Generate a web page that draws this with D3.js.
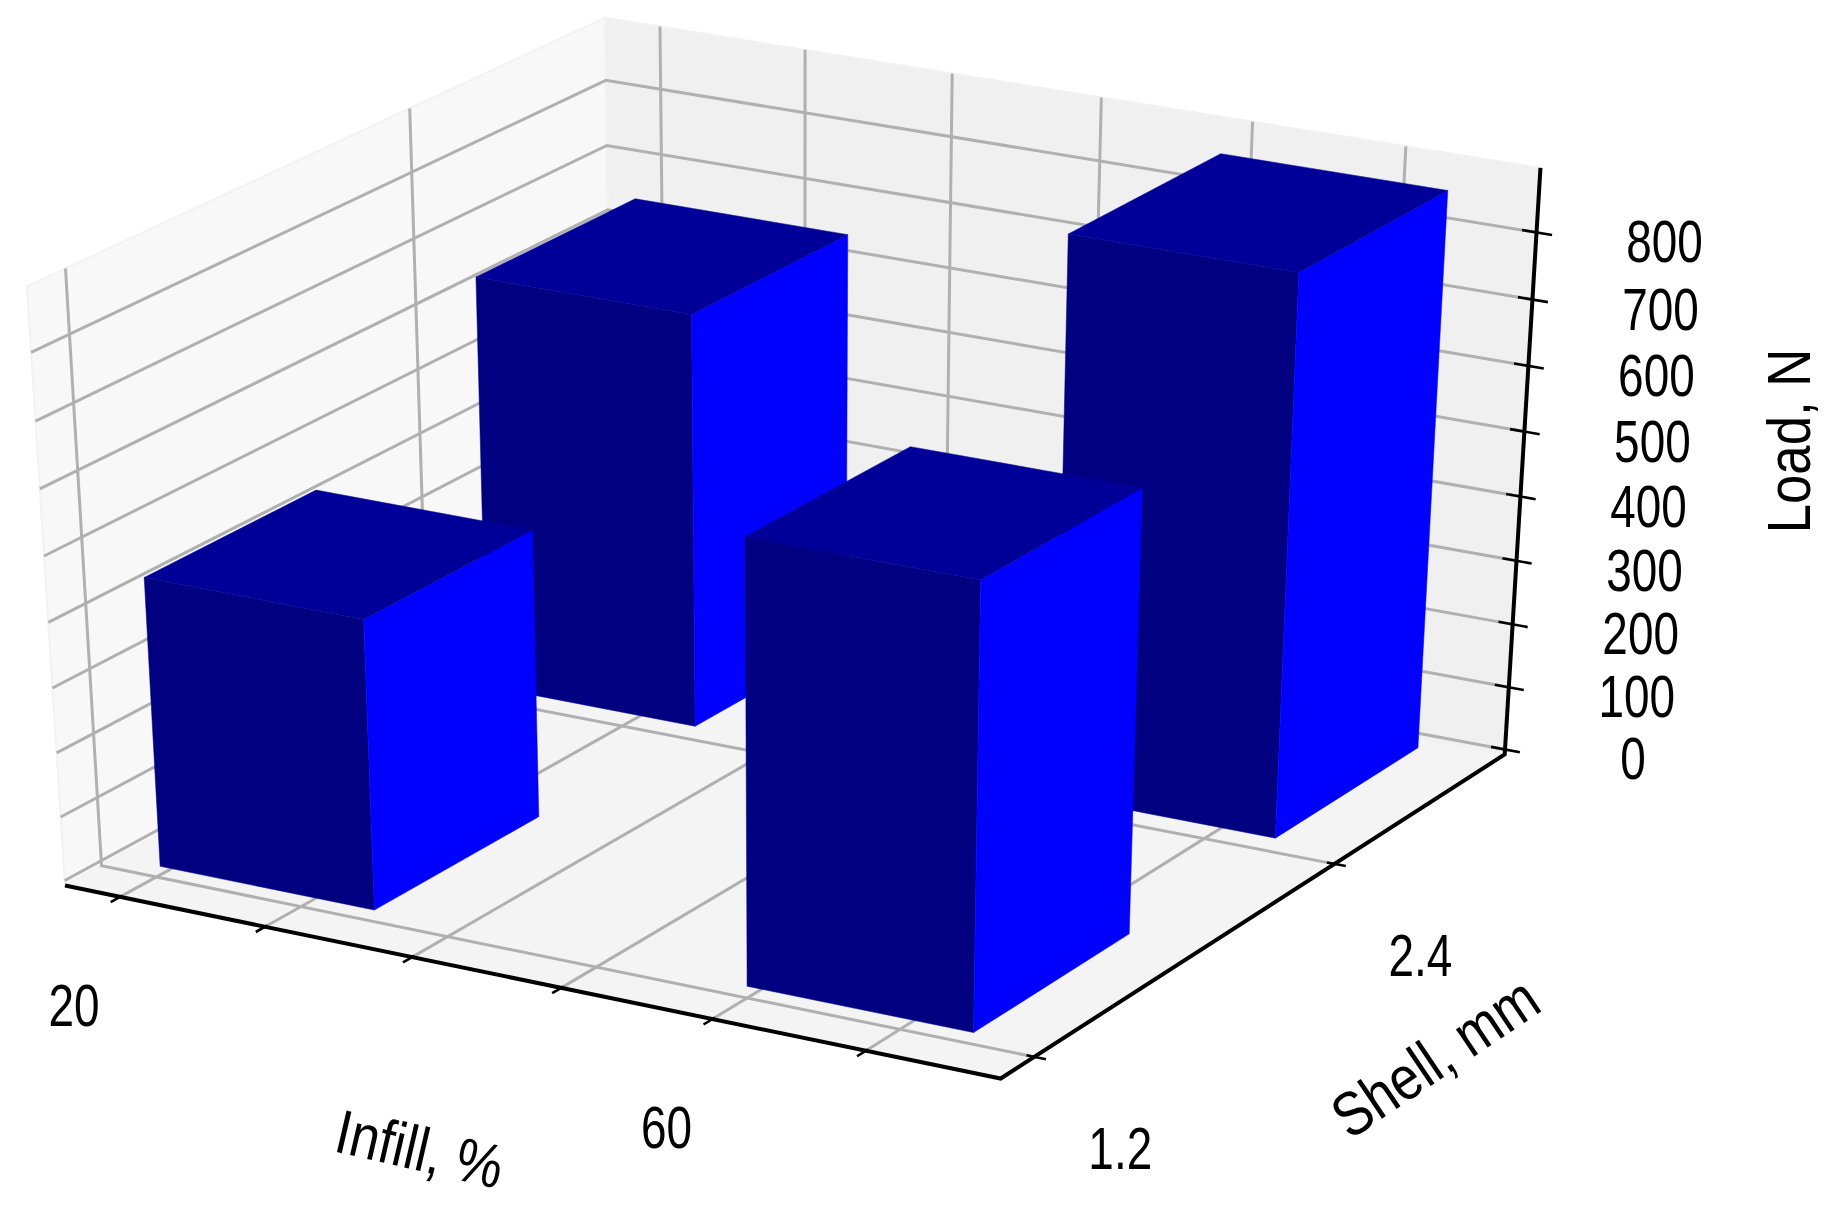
<!DOCTYPE html>
<html>
<head>
<meta charset="utf-8">
<style>
  html, body { margin: 0; background: #fff; }
  text { font-family: "Liberation Sans", sans-serif; fill: #000; }
</style>
<script src="https://cdn.jsdelivr.net/npm/d3@7"></script>
</head>
<body>
<div id="canvas"></div>
<script>
const infill = [58.8, 19.05, 59.05, 19.2];
const shell = [2.472, 2.472, 1.254, 1.254];
const load = [853, 638, 668, 440];
const infillWidth = 14.8;
const shellWidth = 0.607;

const infillTicks = [20, 30, 40, 50, 60, 70];
const infillLabels = ["20", "", "", "", "60", ""];
const shellTicks = [1.2, 2.4];
const shellLabels = ["1.2", "2.4"];
const loadTicks = [0, 100, 200, 300, 400, 500, 600, 700, 800];

const width = 1843;
const height = 1218;

const svg = d3.select("#canvas").append("svg")
  .attr("width", width)
  .attr("height", height)
  .style("display", "block");

// data -> unit cube
const x = d3.scaleLinear().domain([16.17, 78.67]).range([0, 1]);
const y = d3.scaleLinear().domain([1.072, 3.13]).range([0, 1]);
const z = d3.scaleLinear().domain([-8, 895]).range([0, 1]);

// unit cube -> screen, same camera as mplot3d (elev 30, azim -60, dist 10)
const elev = (30 * Math.PI) / 180;
const azim = (-60 * Math.PI) / 180;
const dist = 10;
const e = [Math.cos(elev) * Math.cos(azim), Math.cos(elev) * Math.sin(azim), Math.sin(elev)];
const u = [-Math.sin(azim), Math.cos(azim), 0];
const v = [e[1] * u[2] - e[2] * u[1], e[2] * u[0] - e[0] * u[2], e[0] * u[1] - e[1] * u[0]];
const dot = (a, b) => a[0] * b[0] + a[1] * b[1] + a[2] * b[2];
const screenX = d3.scaleLinear().domain([0, 1]).range([796, 1876]);
const screenY = d3.scaleLinear().domain([0, 1]).range([530, -154]);

const project = (p) => {
  const r = [p[0] - 0.5, p[1] - 0.5, p[2] - 0.5];
  const f = 1 / (1 - dot(r, e) / dist);
  return [screenX(dot(r, u) * f), screenY(dot(r, v) * f)];
};

const line = d3.line().x((d) => d[0]).y((d) => d[1]);
const poly = (pts) => line(pts.map(project)) + "Z";
const seg = (a, b) => line([project(a), project(b)]);

// condensed look: no narrow font installed, so squeeze the text sideways
const addText = (g, str, px, py, size, squeeze, rotate) => {
  g.append("text")
    .attr("font-size", size)
    .attr("text-anchor", "middle")
    .attr("transform", `translate(${px},${py}) rotate(${rotate}) scale(${squeeze},1)`)
    .text(str);
};

// panes
const panes = [
  { pts: [[0, 0, 0], [0, 1, 0], [0, 1, 1], [0, 0, 1]], fill: "#f8f8f8" },
  { pts: [[0, 1, 0], [1, 1, 0], [1, 1, 1], [0, 1, 1]], fill: "#f0f0f0" },
  { pts: [[0, 0, 0], [1, 0, 0], [1, 1, 0], [0, 1, 0]], fill: "#f4f4f4" },
];
svg.append("g").selectAll("path").data(panes).enter().append("path")
  .attr("d", (d) => poly(d.pts))
  .attr("fill", (d) => d.fill)
  .attr("stroke", "#f2f2f2")
  .attr("stroke-width", 2);

// grid
const grid = svg.append("g")
  .attr("fill", "none")
  .attr("stroke", "#b0b0b0")
  .attr("stroke-width", 3);
infillTicks.forEach((t) => {
  grid.append("path").attr("d", line([project([x(t), 0, 0]), project([x(t), 1, 0]), project([x(t), 1, 1])]));
});
shellTicks.forEach((t) => {
  grid.append("path").attr("d", line([project([1, y(t), 0]), project([0, y(t), 0]), project([0, y(t), 1])]));
});
loadTicks.forEach((t) => {
  grid.append("path").attr("d", line([project([0, 0, z(t)]), project([0, 1, z(t)]), project([1, 1, z(t)])]));
});

// bars, back to front
const bars = svg.append("g");
[1, 0, 3, 2].forEach((i) => {
  const x0 = x(infill[i]);
  const x1 = x(infill[i] + infillWidth);
  const y0 = y(shell[i]);
  const y1 = y(shell[i] + shellWidth);
  const b = z(z.domain()[0]);
  const t = z(load[i]);
  const faces = [
    { pts: [[x0, y0, b], [x1, y0, b], [x1, y0, t], [x0, y0, t]], fill: "#000080" },
    { pts: [[x1, y0, b], [x1, y1, b], [x1, y1, t], [x1, y0, t]], fill: "#0000ff" },
    { pts: [[x0, y0, t], [x1, y0, t], [x1, y1, t], [x0, y1, t]], fill: "#000099" },
  ];
  bars.append("g").selectAll("path").data(faces).enter().append("path")
    .attr("d", (d) => poly(d.pts))
    .attr("fill", (d) => d.fill)
    .attr("stroke", (d) => d.fill)
    .attr("stroke-width", 0.5);
});

// axis lines and ticks
const axes = svg.append("g")
  .attr("fill", "none")
  .attr("stroke", "#000");
axes.append("path")
  .attr("d", line([project([0, 0, 0]), project([1, 0, 0]), project([1, 1, 0]), project([1, 1, 1])]))
  .attr("stroke-width", 4);
infillTicks.forEach((t) => {
  axes.append("path").attr("d", seg([x(t), 0.004, 0], [x(t), -0.016, 0])).attr("stroke-width", 2.6);
});
shellTicks.forEach((t) => {
  axes.append("path").attr("d", seg([0.992, y(t), 0], [1.012, y(t), 0])).attr("stroke-width", 2.6);
});
loadTicks.forEach((t) => {
  axes.append("path").attr("d", seg([0.985, 1, z(t)], [1.016, 1, z(t)])).attr("stroke-width", 2.6);
});

// tick labels
const labels = svg.append("g");
infillTicks.forEach((t, i) => {
  const p = project([x(t), 0, 0]);
  addText(labels, infillLabels[i], p[0] - 46, p[1] + 129, 60, 0.765, 0);
});
shellTicks.forEach((t, i) => {
  const p = project([1, y(t), 0]);
  addText(labels, shellLabels[i], p[0] + 86, p[1] + 112, 60, 0.765, 0);
});
loadTicks.forEach((t) => {
  const p = project([1, 1, z(t)]);
  addText(labels, t, p[0] + 128, p[1] + 30, 60, 0.765, 0);
});

// axis titles
const titles = svg.append("g");
addText(titles, "Infill, %", 415, 1170, 62, 0.85, 13);
addText(titles, "Shell, mm", 1447, 1075, 62, 0.85, -34);
addText(titles, "Load, N", 1810, 441, 62, 0.85, -90);
</script>
</body>
</html>
